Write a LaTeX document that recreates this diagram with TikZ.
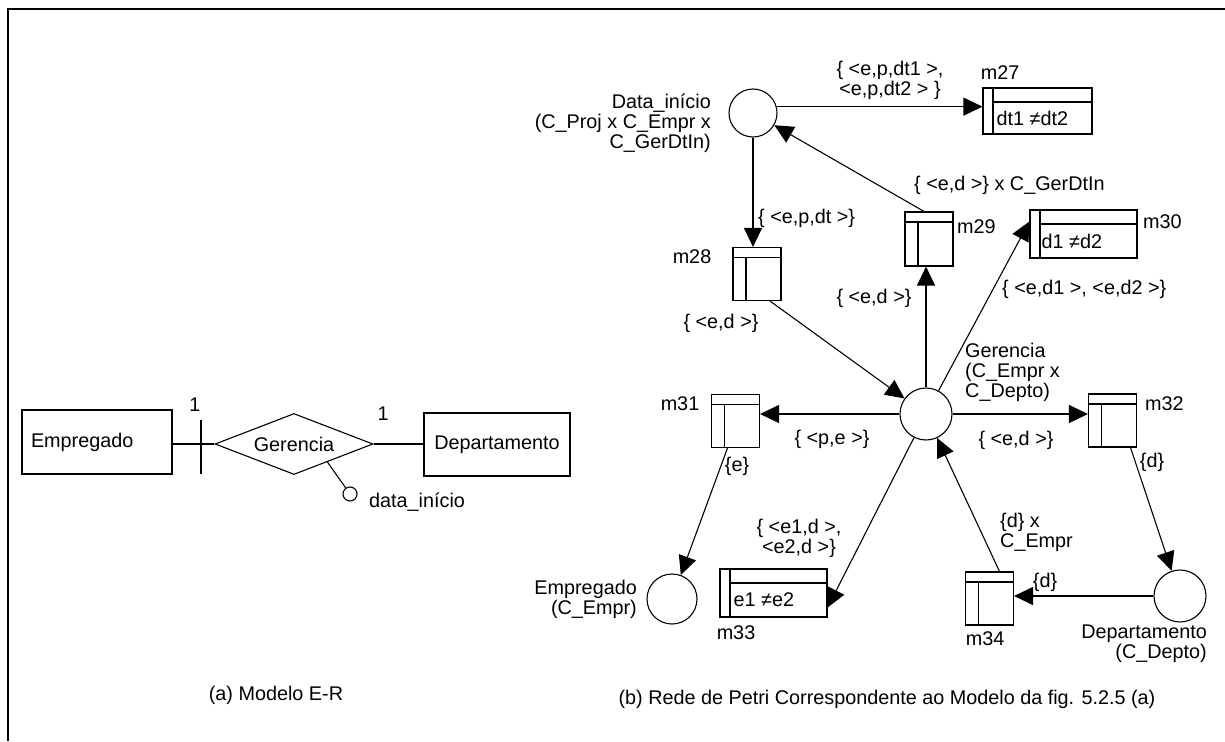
\documentclass[tikz,border=0pt]{standalone}
\usepackage{fontspec}
\setmainfont{Liberation Sans}
\usetikzlibrary{arrows.meta,shapes.geometric,calc}
\newcommand\figfont{\fontsize{19.8}{20}\selectfont}
\begin{document}
\begin{tikzpicture}[x=1pt,y=-1pt,
  every node/.style={font=\figfont, inner sep=0pt},
  lw/.style={line width=1.1pt},
  plc/.style={draw, lw, circle, minimum size=#1, inner sep=0pt},
  tnar/.style={draw, lw, rectangle, minimum width=48pt, minimum height=53pt, inner sep=0pt,
    path picture={
      \draw[lw] ([yshift=-10pt]path picture bounding box.north west) -- ([yshift=-10pt]path picture bounding box.north east);
      \draw[lw] ([shift={(13pt,-10pt)}]path picture bounding box.north west) -- ([xshift=13pt]path picture bounding box.south west);
    }},
  twide/.style={draw, lw, rectangle, inner sep=0pt,
    path picture={
      \draw[lw] ([xshift=10pt]path picture bounding box.north west) -- ([xshift=10pt]path picture bounding box.south west);
      \draw[lw] ([shift={(10pt,-14pt)}]path picture bounding box.north west) -- ([yshift=-14pt]path picture bounding box.north east);
    }},
  arr/.style={lw, -{Triangle[length=19pt,width=18pt]}},
  ent/.style={draw, lw, rectangle, inner sep=0pt},
]
\useasboundingbox (0,0) rectangle (1225,741);
% frame
\draw[line width=2.5pt] (8,741) -- (8,9) -- (1225,9);

% ---------------- (a) E-R model ----------------
\node[ent, minimum width=150pt, minimum height=64pt, text width=132pt, align=left, inner xsep=9pt] (empr) at (97,442) {Empregado};
\node[draw, lw, diamond, aspect=2.6, minimum width=158pt, minimum height=61pt, inner sep=0pt] (diam) at (294,444) {Gerencia};
\node[ent, minimum width=146pt, minimum height=63pt] (dept) at (497,444.5) {Departamento};
\draw[lw] (diam.west) -- (diam.west -| empr.east);
\draw[lw] (diam.east) -- (diam.east -| dept.west);
\coordinate (tkA) at (201,420);
\coordinate (tkB) at (201,474);
\draw[lw] (tkA) -- (tkB);
\node (one1) at (195,405) {1};
\node (one2) at (383,414) {1};
\node[plc=14pt] (attr) at (350,494) {};
\coordinate (attrbase) at ($(diam.south)!0.42!(diam.east)$);
\draw[lw] (attrbase) -- (attr);
\node[anchor=west] (attrtxt) at (369,502) {data\_início};
\node (capa) at (276,695) {(a) Modelo E-R};

% ---------------- (b) Petri net ----------------
\node[plc=48pt] (dat) at (753,113) {};
\node[twide, minimum width=109pt, minimum height=46pt] (m27) at (1037.5,111) {};
\node[tnar] (m28) at (757,274) {};
\node[tnar, minimum height=54pt] (m29) at (929,239) {};
\node[twide, minimum width=107pt, minimum height=48pt] (m30) at (1083.5,234) {};
\node[plc=52pt] (ger) at (926,414) {};
\node[tnar] (m31) at (735.5,421) {};
\node[tnar] (m32) at (1112.5,420.5) {};
\node[plc=50pt] (emp) at (672,599) {};
\node[plc=52pt] (dep) at (1180,596) {};
\node[tnar] (m34) at (989.5,598.5) {};
\node[twide, minimum width=107pt, minimum height=48pt] (m33) at (773.5,593) {};

% texts in wide transitions
\node[anchor=west] (m27t) at ([shift={(14pt,-7pt)}]m27.west) {dt1 ≠dt2};
\node[anchor=west] (m30t) at ([shift={(12pt,-7pt)}]m30.west) {d1 ≠d2};
\node[anchor=west] (m33t) at ([shift={(14pt,-7pt)}]m33.west) {e1 ≠e2};

% arcs
\draw[arr] (dat.15) -- (dat.15 -| m27.west);
\draw[arr] (dat.south) -- (dat.south |- m28.north);
\draw[arr] ([xshift=13pt]m28.south) -- (ger);
\draw[arr] (ger.north) -- (ger.north |- m29.south);
\draw[arr] ([xshift=-5pt]m29.north) -- (dat);
\draw[arr] (ger) -- ([yshift=-12pt]m30.north west);
\draw[arr] (ger.west) -- (ger.west -| m31.east);
\draw[arr] (ger.east) -- (ger.east -| m32.west);
\draw[arr] ([xshift=-8pt]m31.south) -- (emp);
\draw[arr] ([xshift=18pt]m32.south) -- (dep);
\draw[arr] (dep.west) -- (dep.west -| m34.east);
\draw[arr] ([xshift=10pt]m34.north) -- (ger);
\draw[arr] (ger) -- ([yshift=10pt]m33.south east);

% labels
\node[anchor=east, align=right] (datl) at (711,123) {Data\_início\\(C\_Proj x C\_Empr x\\C\_GerDtIn)};
\node[align=center] (l27) at (890,80) {\{ <e,p,dt1 >,\\<e,p,dt2 > \}};
\node (n27) at (1000,73) {m27};
\node[anchor=west] (l28a) at (758,218) {\{ <e,p,dt >\}};
\node (n28) at (692,257) {m28};
\node (l28b) at (721,323) {\{ <e,d >\}};
\node[anchor=west] (l29a) at (914,185) {\{ <e,d >\} x C\_GerDtIn};
\node[anchor=west] (n29) at (957,227) {m29};
\node[anchor=west] (n30) at (1143,222) {m30};
\node (l29b) at (874,298) {\{ <e,d >\}};
\node[anchor=west] (l30) at (1002,289) {\{ <e,d1 >, <e,d2 >\}};
\node[anchor=west, align=left] (gerl) at (965,372) {Gerencia\\(C\_Empr x\\C\_Depto)};
\node (n31) at (680,404) {m31};
\node[anchor=west] (n32) at (1145,404) {m32};
\node (l31) at (832,439) {\{ <p,e >\}};
\node (l32) at (1016,440) {\{ <e,d >\}};
\node (l31b) at (737,466) {\{e\}};
\node (l32b) at (1152,462) {\{d\}};
\node[align=center] (l33) at (799,538) {\{ <e1,d >,\\<e2,d >\}};
\node[anchor=west, align=left] (l34a) at (1000,532) {\{d\} x\\C\_Empr};
\node (l34b) at (1045,582) {\{d\}};
\node[anchor=east, align=right] (empl) at (637,599) {Empregado\\(C\_Empr)};
\node (n33) at (736,633) {m33};
\node (n34) at (985,639) {m34};
\node[anchor=east, align=right] (depl) at (1207,644) {Departamento\\(C\_Depto)};
\node (capb) at (887,699) {(b) Rede de Petri Correspondente ao Modelo da fig. 5.2.5 (a)};
\end{tikzpicture}
\end{document}
